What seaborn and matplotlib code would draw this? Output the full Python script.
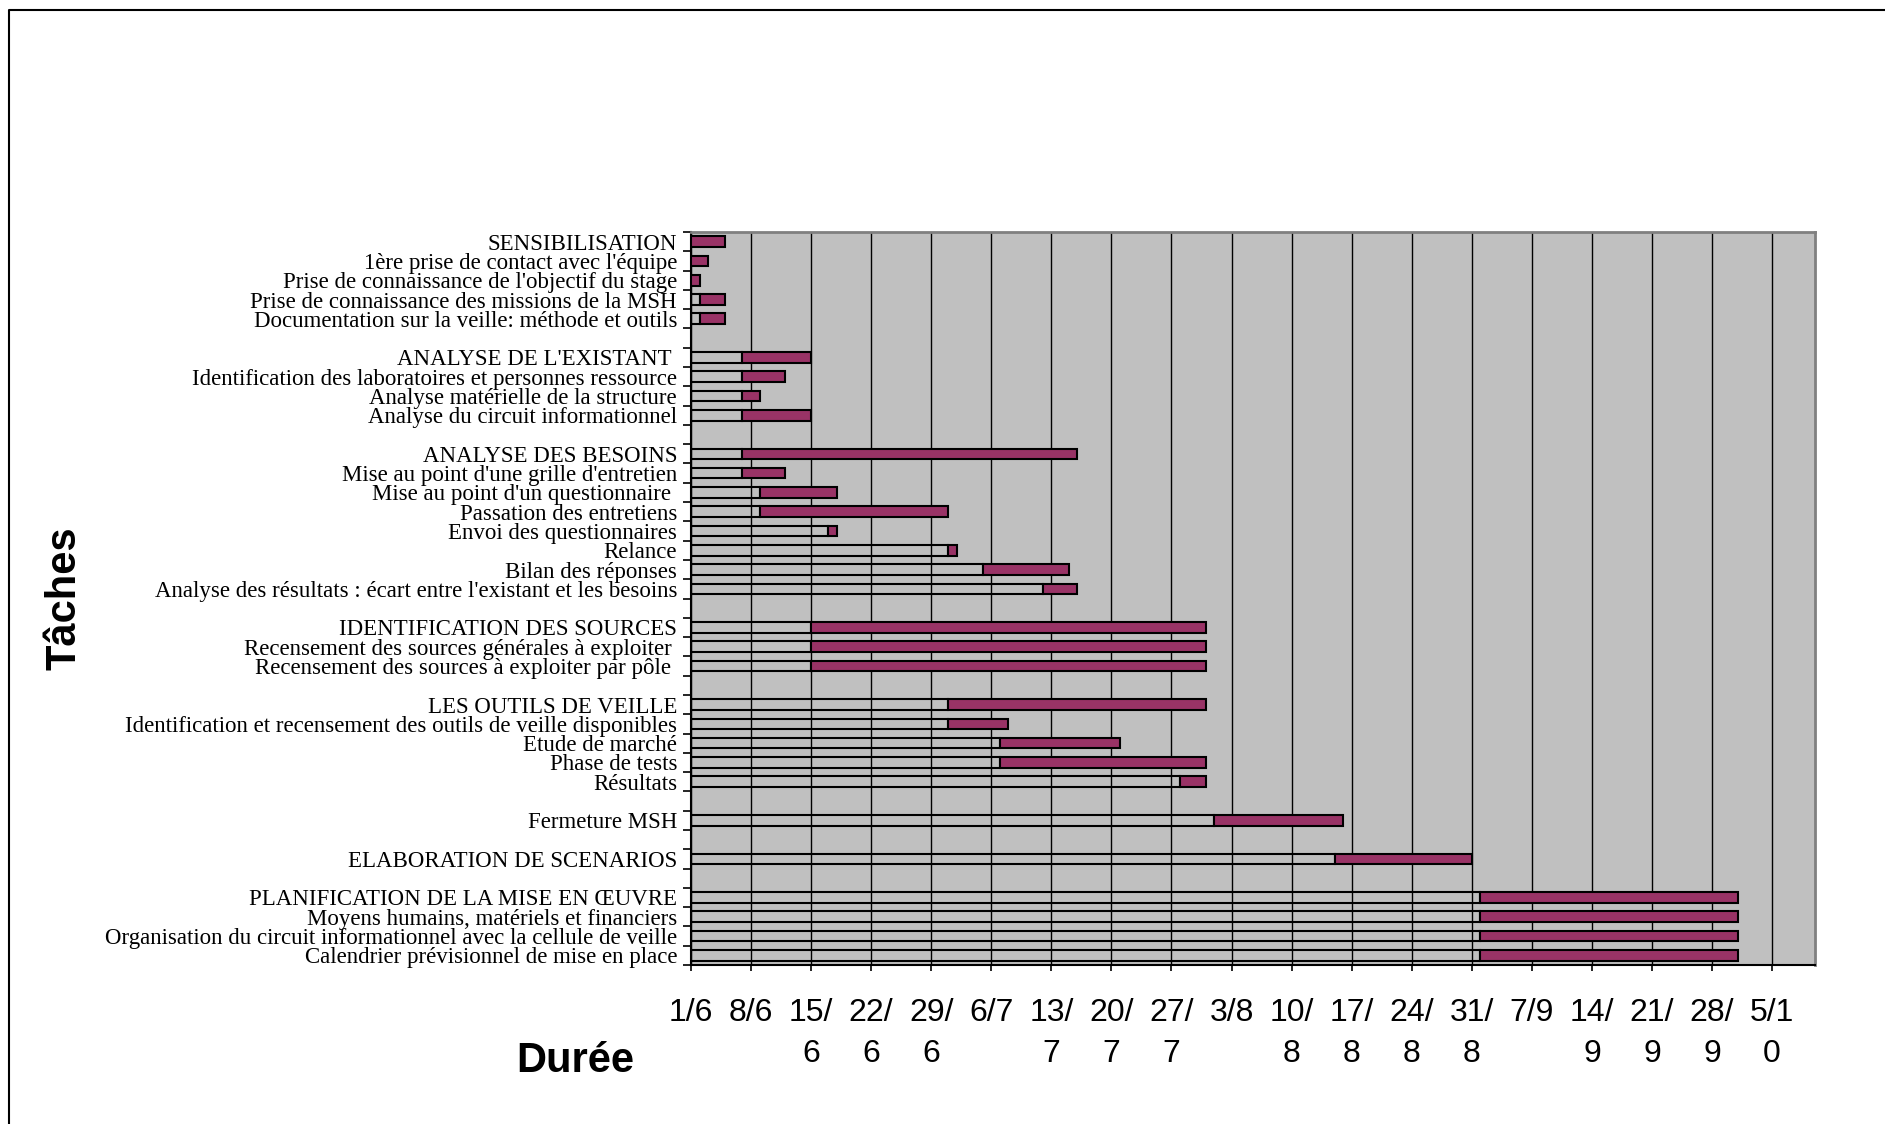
import matplotlib
matplotlib.use("Agg")
import matplotlib.pyplot as plt
import seaborn as sns
import pandas as pd
from matplotlib.lines import Line2D

# Task list, top to bottom; whitespace-only names are spacer rows between phases
tasks = [
    "SENSIBILISATION",
    "1ère prise de contact avec l'équipe",
    "Prise de connaissance de l'objectif du stage",
    "Prise de connaissance des missions de la MSH",
    "Documentation sur la veille: méthode et outils",
    " ",
    "ANALYSE DE L'EXISTANT ",
    "Identification des laboratoires et personnes ressource",
    "Analyse matérielle de la structure",
    "Analyse du circuit informationnel",
    "  ",
    "ANALYSE DES BESOINS",
    "Mise au point d'une grille d'entretien",
    "Mise au point d'un questionnaire ",
    "Passation des entretiens",
    "Envoi des questionnaires",
    "Relance",
    "Bilan des réponses",
    "Analyse des résultats : écart entre l'existant et les besoins",
    "   ",
    "IDENTIFICATION DES SOURCES",
    "Recensement des sources générales à exploiter ",
    "Recensement des sources à exploiter par pôle ",
    "    ",
    "LES OUTILS DE VEILLE",
    "Identification et recensement des outils de veille disponibles",
    "Etude de marché",
    "Phase de tests",
    "Résultats",
    "     ",
    "Fermeture MSH",
    "      ",
    "ELABORATION DE SCENARIOS",
    "       ",
    "PLANIFICATION DE LA MISE EN ŒUVRE",
    "Moyens humains, matériels et financiers",
    "Organisation du circuit informationnel avec la cellule de veille",
    "Calendrier prévisionnel de mise en place",
]

# Start (days after 1 June) and duration (days) of each task; None for spacers
start_day = [0, 0, 0, 1, 1, None,
             6, 6, 6, 6, None,
             6, 6, 8, 8, 16, 30, 34, 41, None,
             14, 14, 14, None,
             30, 30, 36, 36, 57, None,
             61, None,
             75, None,
             92, 92, 92, 92]
duration = [4, 2, 1, 3, 3, None,
            8, 5, 2, 8, None,
            39, 5, 9, 22, 1, 1, 10, 4, None,
            46, 46, 46, None,
            30, 7, 14, 24, 3, None,
            15, None,
            16, None,
            30, 30, 30, 30]

# Weekly date labels on the time axis (wrapped as in the original layout)
date_labels = ["1/6", "8/6", "15/\n6", "22/\n6", "29/\n6", "6/7", "13/\n7",
               "20/\n7", "27/\n7", "3/8", "10/\n8", "17/\n8", "24/\n8",
               "31/\n8", "7/9", "14/\n9", "21/\n9", "28/\n9", "5/1\n0"]

PURPLE = "#993366"
PLOT_BG = "#C0C0C0"

df = pd.DataFrame({"task": tasks, "start": start_day, "duration": duration})
df = df.dropna().reset_index(drop=True)

sns.set_style("white")
plt.rcParams["font.family"] = ["Liberation Serif", "DejaVu Serif"]
plt.rcParams["text.color"] = "black"
plt.rcParams["xtick.labelcolor"] = "black"
plt.rcParams["ytick.labelcolor"] = "black"

W, H = 1885, 1124
fig = plt.figure(figsize=(W / 100, H / 100), dpi=100)
ax = fig.add_axes([691 / W, 1 - 965 / H, (1815 - 691) / W, (965 - 232) / H])
ax.set_facecolor(PLOT_BG)

# Waiting period before each task: outline only
sns.barplot(data=df, x="start", y="task", order=tasks, orient="h",
            width=0.55, errorbar=None, ax=ax, color="black", saturation=1,
            facecolor="none", edgecolor="black", linewidth=1.5, zorder=3)
# Active period of each task, starting where the waiting period ends
sns.barplot(data=df, x="duration", y="task", order=tasks, orient="h",
            width=0.55, errorbar=None, ax=ax, color=PURPLE, saturation=1,
            left=df["start"].values,
            edgecolor="black", linewidth=1.5, zorder=4)

# Time axis: one gridline per week
week_pos = list(range(0, 7 * len(date_labels), 7))
ax.set_xlim(0, 131)
ax.set_xticks(week_pos)
ax.set_xticklabels(date_labels, fontsize=23, linespacing=1.45,
                   family=["Liberation Sans", "DejaVu Sans"], color="black")
ax.xaxis.grid(True, color="black", linewidth=1.0)
ax.set_axisbelow(True)
ax.tick_params(axis="x", direction="out", length=4, width=1.2,
               color="black", pad=20, bottom=True)

# Task axis: labels at row centres, tick marks at row boundaries
n = len(tasks)
ax.set_yticks(range(n))
ax.set_yticklabels(tasks, fontsize=16.5, color="black")
ax.set_yticks([i - 0.5 for i in range(n + 1)], minor=True)
ax.tick_params(axis="y", which="major", length=0, pad=10)
ax.tick_params(axis="y", which="minor", direction="out", length=6,
               width=1.2, color="black", left=True)
ax.set_ylim(n - 0.5, -0.5)
ax.set_xlabel("")
ax.set_ylabel("")

for side in ("left", "bottom"):
    ax.spines[side].set_color("black")
    ax.spines[side].set_linewidth(1.5)
for side in ("top", "right"):
    ax.spines[side].set_color("#808080")
    ax.spines[side].set_linewidth(2)

fig.text(64 / W, 1 - 598 / H, "Tâches", rotation=90, ha="center",
         va="center", fontsize=30, fontweight="bold", color="black",
         family=["Liberation Sans", "DejaVu Sans"])
fig.text(575 / W, 1 - 1061 / H, "Durée", ha="center", va="center",
         fontsize=30, fontweight="bold", color="black",
         family=["Liberation Sans", "DejaVu Sans"])

# Outer frame of the chart area
fig.add_artist(Line2D([9 / W, 9 / W, 1], [0, 1 - 10 / H, 1 - 10 / H],
                      transform=fig.transFigure, color="black",
                      linewidth=1.5))

fig.savefig("out.png", dpi=100)
